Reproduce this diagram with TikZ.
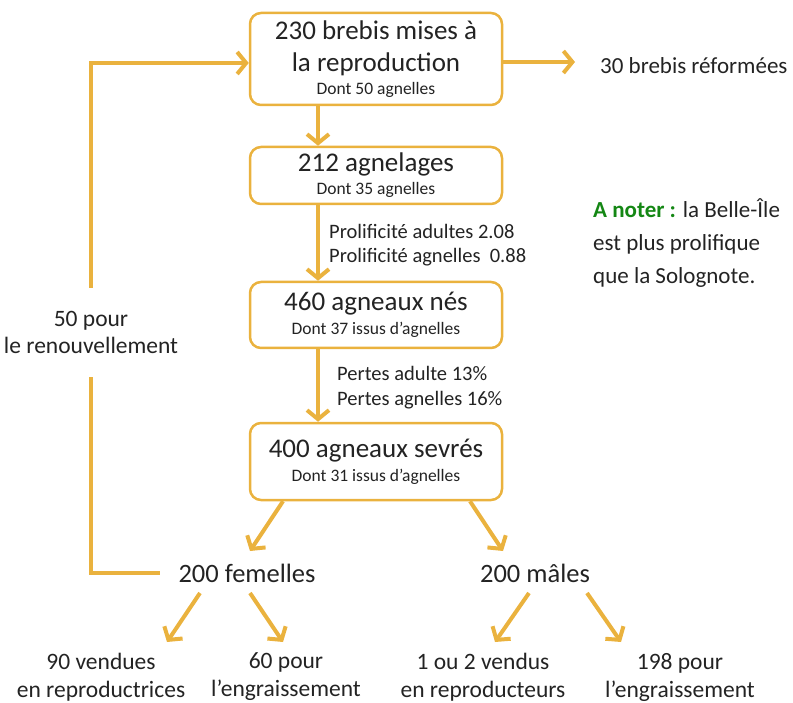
\documentclass[tikz,border=0pt]{standalone}
\usepackage{fontspec}
\setmainfont{Carlito}
\usepackage{tikz}
\usetikzlibrary{arrows.meta, positioning}
\definecolor{flowgold}{RGB}{234,178,62}
\definecolor{notegreen}{RGB}{20,135,20}
\definecolor{inkgrey}{RGB}{35,35,35}
\newcommand{\petit}{\fontsize{17.5}{20}\selectfont}

\begin{document}
\begin{tikzpicture}[x=1pt, y=-1pt, text=inkgrey,
    stagebox/.style={rectangle, rounded corners=11pt, draw=flowgold, line width=2.5pt,
        minimum width=252pt, inner sep=0pt, align=center, font=\fontsize{27}{32}\selectfont},
    flow/.style={draw=flowgold, line width=4pt, -{Straight Barb[length=9pt, width=22pt]}},
    branch/.style={font=\fontsize{26.5}{31}\selectfont},
    leaf/.style={font=\fontsize{23.5}{28}\selectfont, align=center},
    remark/.style={font=\fontsize{20.5}{24.5}\selectfont, align=left, anchor=west, inner sep=0pt}]
    \useasboundingbox (0,0) rectangle (793,703);

    % Main chain of stages
    \node[stagebox, minimum height=92pt] (mise) at (376,59)
        {230 brebis mises à\\la reproduction\\[-9pt]{\petit Dont 50 agnelles}};
    \node[stagebox, minimum height=57pt] (agnel) at (376,175.5)
        {212 agnelages\\[-9pt]{\petit Dont 35 agnelles}};
    \node[stagebox, minimum height=66pt] (nes) at (376,315)
        {460 agneaux nés\\[-8pt]{\petit Dont 37 issus d'agnelles}};
    \node[stagebox, minimum height=77pt] (sevres) at (376,461.5)
        {400 agneaux sevrés\\[-8pt]{\petit Dont 31 issus d'agnelles}};

    \draw[flow] ([xshift=-58pt]mise.south) -- ([xshift=-58pt]agnel.north);
    \draw[flow] ([xshift=-58pt]agnel.south) -- ([xshift=-58pt]nes.north);
    \draw[flow] ([xshift=-58pt]nes.south) -- ([xshift=-58pt]sevres.north);

    \node[remark] (prolif) at (329,245) {Prolificité adultes 2.08\\Prolificité agnelles\ \ 0.88};
    \node[remark] (pertes) at (337,387.5) {Pertes adulte 13\%\\Pertes agnelles 16\%};

    % Culled ewes
    \node[font=\fontsize{23}{28}\selectfont, anchor=west, inner sep=0pt] (reforme) at (600,66) {30 brebis réformées};
    \coordinate (reftip) at (575,62);
    \draw[flow] (mise.east |- reftip) -- (reftip);

    % Note
    \node[font=\fontsize{23}{33}\selectfont, align=left, anchor=north west, inner sep=0pt] (note) at (593,198)
        {{\bfseries\color{notegreen}A noter :} la Belle-Île\\est plus prolifique\\que la Solognote.};

    % Split by sex
    \node[branch] (femelles) at (247,573) {200 femelles};
    \node[branch] (males) at (535,573) {200 mâles};
    \draw[flow] ([xshift=-93pt]sevres.south) -- ([shift={(3pt,22pt)}]femelles.center);
    \draw[flow] ([xshift=94pt]sevres.south) -- ([shift={(-32pt,22pt)}]males.center);

    % Outcomes
    \node[leaf] (vendf) at (101,677) {90 vendues\\en reproductrices};
    \node[leaf] (engf) at (286,677) {60 pour\\l'engraissement};
    \node[leaf] (vendm) at (483,677) {1 ou 2 vendus\\en reproducteurs};
    \node[leaf] (engm) at (680,677) {198 pour\\l'engraissement};
    \draw[flow] ([shift={(-47pt,-20pt)}]femelles.center) -- ([shift={(66pt,35pt)}]vendf.center);
    \draw[flow] ([shift={(3pt,-20pt)}]femelles.center) -- ([shift={(-3pt,35pt)}]engf.center);
    \draw[flow] ([shift={(-6pt,-20pt)}]males.center) -- ([shift={(12pt,35pt)}]vendm.center);
    \draw[flow] ([shift={(52pt,-20pt)}]males.center) -- ([shift={(-59pt,35pt)}]engm.center);

    % Renewal loop
    \node[font=\fontsize{23.5}{27}\selectfont, align=center, inner sep=0pt, minimum height=89pt] (renouv) at (91,332.5)
        {50 pour\\le renouvellement};
    \draw[draw=flowgold, line width=4pt] ([xshift=-15pt]femelles.west) -| (renouv.south);
    \draw[flow] (renouv.north) |- ([yshift=-4pt]mise.west);
\end{tikzpicture}
\end{document}
